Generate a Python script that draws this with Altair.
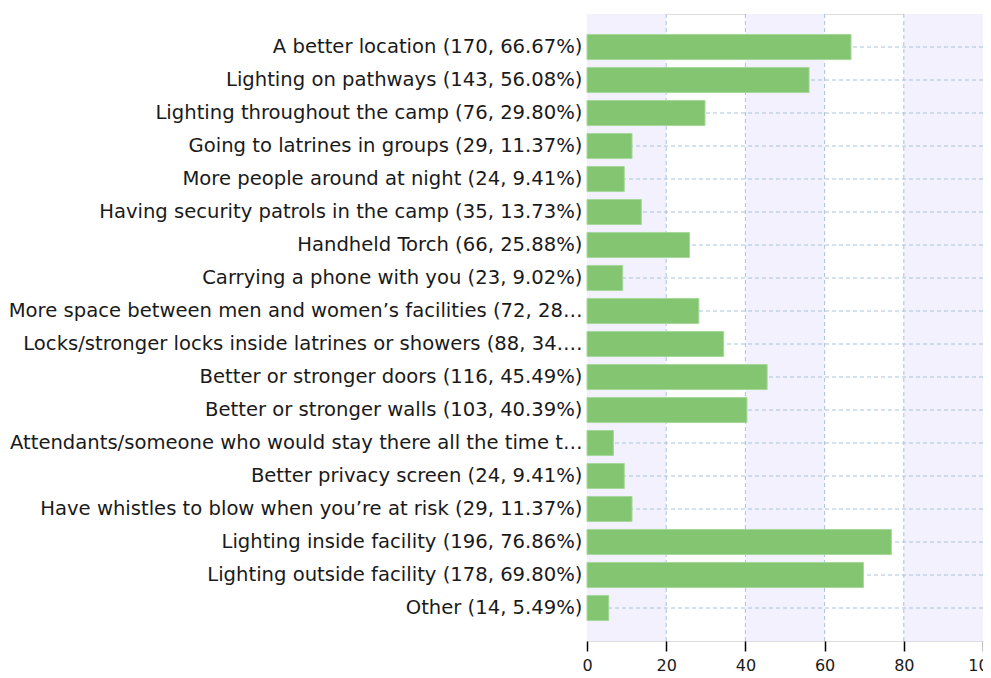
import altair as alt
import pandas as pd

labels = [
    "A better location (170, 66.67%)",
    "Lighting on pathways (143, 56.08%)",
    "Lighting throughout the camp (76, 29.80%)",
    "Going to latrines in groups (29, 11.37%)",
    "More people around at night  (24, 9.41%)",
    "Having security patrols in the camp (35, 13.73%)",
    "Handheld Torch (66, 25.88%)",
    "Carrying a phone with you (23, 9.02%)",
    "More space between men and women\u2019s facilities (72, 28\u2026",
    "Locks/stronger locks inside latrines or showers (88, 34.\u2026",
    "Better or stronger doors (116, 45.49%)",
    "Better or stronger walls (103, 40.39%)",
    "Attendants/someone who would stay there all the time t\u2026",
    "Better privacy screen (24, 9.41%)",
    "Have whistles to blow when you\u2019re at risk (29, 11.37%)",
    "Lighting inside facility (196, 76.86%)",
    "Lighting outside facility (178, 69.80%)",
    "Other (14, 5.49%)",
]
percent = [66.67, 56.08, 29.80, 11.37, 9.41, 13.73, 25.88, 9.02, 28.24,
           34.51, 45.49, 40.39, 6.67, 9.41, 11.37, 76.86, 69.80, 5.49]

band_start = [0, 40, 80]
band_end = [20, 60, 100]
grid_x = [20, 40, 60, 80]
tick_values = [0, 20, 40, 60, 80, 100]

df = pd.DataFrame({"label": labels, "pct": percent, "full": [100] * len(labels), "zero": [0] * len(labels)})
bands = pd.DataFrame({"x": band_start, "x2": band_end})
grid = pd.DataFrame({"x": grid_x})

FONT = "DejaVu Sans"
PLOT_H = 627
xscale = alt.Scale(domain=[0, 100], nice=False)
yscale = alt.Scale(domain=labels, paddingInner=0.24, paddingOuter=0.62)

xaxis = alt.Axis(
    values=tick_values,
    title=None,
    grid=False,
    domain=False,
    tickColor="#000000",
    tickSize=10,
    tickWidth=1.5,
    labelFont=FONT,
    labelFontSize=16,
    labelColor="#1a1a1a",
    labelPadding=6,
    labelFlush=False,
)
yaxis = alt.Axis(
    title=None,
    ticks=False,
    domain=False,
    grid=False,
    labelFont=FONT,
    labelFontSize=19.6,
    labelColor="#1a1a1a",
    labelLimit=700,
    labelPadding=5,
)

bars_axis = alt.Chart(df).mark_bar(opacity=0).encode(
    x=alt.X("pct:Q", scale=xscale, axis=xaxis),
    y=alt.Y("label:N", scale=yscale, sort=labels, axis=yaxis),
)

band_layer = alt.Chart(bands).mark_rect(color="#f3f1fd").encode(
    x=alt.X("x:Q", scale=xscale, title=None),
    x2="x2:Q",
    y=alt.value(0),
    y2=alt.value(PLOT_H),
)

vgrid = alt.Chart(grid).mark_rule(color="#a8c4dc", strokeDash=[4, 3], strokeWidth=1).encode(
    x=alt.X("x:Q", scale=xscale, title=None),
    y=alt.value(0),
    y2=alt.value(PLOT_H),
)

hgrid = alt.Chart(df).mark_rule(color="#a8c4dc", strokeDash=[4, 3], strokeWidth=1).encode(
    x=alt.X("zero:Q", scale=xscale, title=None),
    x2="full:Q",
    y=alt.Y("label:N", scale=yscale, sort=labels, title=None, bandPosition=0.5),
)

bars = alt.Chart(df).mark_bar(color="#84c571", stroke="#a6d89a", strokeWidth=1).encode(
    x=alt.X("pct:Q", scale=xscale, title=None),
    y=alt.Y("label:N", scale=yscale, sort=labels, title=None),
)

chart = (
    alt.layer(bars_axis, band_layer, vgrid, hgrid, bars)
    .properties(
        width=396,
        height=PLOT_H,
        autosize=alt.AutoSizeParams(type="none"),
        padding={"left": 579, "top": 6, "right": 0, "bottom": 34},
    )
    .configure_view(stroke="#dddddd", strokeWidth=1.5)
    .configure(background="white")
)

chart.save("out.html", embed_options={"renderer": "svg", "actions": False})
